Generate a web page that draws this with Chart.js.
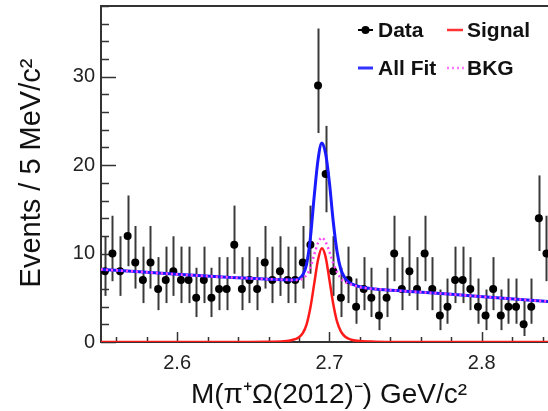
<!DOCTYPE html>
<html>
<head>
<meta charset="utf-8">
<script src="https://cdn.jsdelivr.net/npm/chart.js@4.4.1/dist/chart.umd.min.js"></script>
<style>
  html, body { margin: 0; padding: 0; background: #fff; }
  canvas { display: block; }
</style>
</head>
<body>
<canvas id="massChart" width="548" height="411"></canvas>
<script>
// binning of the histogram (5 MeV bins starting at 2.55 GeV)
var binLow = 2.55;
var binWidth = 0.005;

// events per bin
var counts = [8, 10, 8, 12, 9, 7, 9, 6, 7, 8,
              7, 7, 5, 7, 5, 6, 6, 11, 6, 7,
              6, 9, 7, 8, 7, 7, 9, 11, 29, 19,
              8, 5, 7, 4, 6, 5, 3, 5, 10, 6,
              8, 6, 10, 6, 3, 4, 7, 7, 6, 4,
              3, 6, 3, 4, 4, 2, 4, 14, 10];

// fit curves sampled at these masses
var curveX      = [2.55, 2.57, 2.60, 2.63, 2.66, 2.67, 2.675, 2.68, 2.6825, 2.685, 2.6875, 2.69, 2.6925, 2.695, 2.6975, 2.70, 2.7025, 2.705, 2.7075, 2.71, 2.7125, 2.715, 2.72, 2.73, 2.75, 2.78, 2.81, 2.85];
var signalCurve = [0, 0, 0, 0, 0.03, 0.08, 0.2, 0.55, 1.0, 2.0, 3.9, 6.6, 9.3, 10.6, 9.6, 7.0, 4.3, 2.3, 1.2, 0.65, 0.38, 0.22, 0.1, 0.04, 0.01, 0, 0, 0];
var allFitCurve = [8.2, 8.0, 7.65, 7.35, 7.1, 7.05, 7.0, 7.15, 7.6, 8.8, 11.8, 16.5, 20.6, 22.5, 21.3, 18.0, 13.6, 10.2, 8.2, 7.3, 6.8, 6.55, 6.25, 6.0, 5.75, 5.4, 5.0, 4.5];
var bkgCurve    = [8.2, 8.0, 7.65, 7.35, 7.1, 7.05, 7.0, 7.0, 7.2, 7.6, 8.4, 9.9, 11.2, 11.8, 11.3, 10.2, 8.9, 7.9, 7.2, 6.8, 6.6, 6.45, 6.2, 6.0, 5.75, 5.4, 5.0, 4.5];

// axis ticks
var xTickLabels = [2.6, 2.7, 2.8];
var yTickLabels = [0, 10, 20, 30];

var FONT = "'Liberation Sans', Arial, Helvetica, sans-serif";

// build the point lists chart.js wants
var dataPoints = [];
for (var i = 0; i < counts.length; i++) {
    dataPoints.push({ x: binLow + binWidth * (i + 0.5), y: counts[i] });
}
function toPoints(ys) {
    var pts = [];
    for (var i = 0; i < curveX.length; i++) pts.push({ x: curveX[i], y: ys[i] });
    return pts;
}

// asymmetric poisson errors like ROOT draws them
function errLow(n) { return n > 0 ? Math.sqrt(n - 0.25) : 0; }
function errHigh(n) { return Math.sqrt(n + 0.75) + 1; }

// frame, inner ticks and error bars in ROOT style
var rootFrame = {
    id: 'rootFrame',
    beforeDatasetsDraw: function(chart) {
        var ctx = chart.ctx, a = chart.chartArea;
        var xs = chart.scales.x, ys = chart.scales.y;
        ctx.save();
        ctx.beginPath();
        ctx.rect(a.left, a.top, a.right - a.left, a.bottom - a.top);
        ctx.clip();

        // error bars
        ctx.strokeStyle = '#3a3a3a';
        ctx.lineWidth = 2;
        for (var i = 0; i < dataPoints.length; i++) {
            var p = dataPoints[i];
            var px = Math.round(xs.getPixelForValue(p.x)) + 0.5;
            ctx.beginPath();
            ctx.moveTo(px, ys.getPixelForValue(p.y - errLow(p.y)));
            ctx.lineTo(px, ys.getPixelForValue(p.y + errHigh(p.y)));
            ctx.stroke();
        }
        ctx.restore();

        // frame
        ctx.save();
        ctx.strokeStyle = '#333';
        ctx.lineWidth = 2;
        ctx.beginPath();
        ctx.moveTo(a.right, a.top);
        ctx.lineTo(a.left, a.top);
        ctx.lineTo(a.left, a.bottom);
        ctx.lineTo(a.right, a.bottom);
        ctx.stroke();

        // y ticks every 2, long ones every 10
        ctx.lineWidth = 1.5;
        for (var v = 0; v <= ys.max; v += 2) {
            var y = Math.round(ys.getPixelForValue(v)) + 0.5;
            var len = (v % 10 === 0) ? 15 : 8;
            ctx.beginPath();
            ctx.moveTo(a.left, y);
            ctx.lineTo(a.left + len, y);
            ctx.stroke();
        }
        // x ticks every 0.02, long ones every 0.1
        for (var k = 0; ; k++) {
            var xv = 2.56 + 0.02 * k;
            if (xv > xs.max) break;
            var x = Math.round(xs.getPixelForValue(xv)) + 0.5;
            var major = Math.abs(xv * 10 - Math.round(xv * 10)) < 1e-6;
            ctx.beginPath();
            ctx.moveTo(x, a.bottom);
            ctx.lineTo(x, a.bottom - (major ? 10 : 5));
            ctx.stroke();
        }
        ctx.restore();
    },
    afterDraw: function(chart) {
        var ctx = chart.ctx;
        ctx.save();
        ctx.fillStyle = '#111';

        // axis titles
        ctx.font = '28px ' + FONT;
        ctx.textAlign = 'center';
        ctx.textBaseline = 'alphabetic';
        ctx.fillText('M(\u03c0\u207a\u03a9(2012)\u207b) GeV/c\u00b2', 329, 403);

        ctx.save();
        ctx.translate(40, 173);
        ctx.rotate(-Math.PI / 2);
        ctx.font = '29px ' + FONT;
        ctx.fillText('Events / 5 MeV/c\u00b2', 0, 0);
        ctx.restore();

        // legend
        ctx.font = 'bold 21px ' + FONT;
        ctx.textAlign = 'left';
        ctx.textBaseline = 'middle';
        var row1 = 30, row2 = 68;

        ctx.strokeStyle = '#000';
        ctx.lineWidth = 2;
        ctx.beginPath(); ctx.moveTo(358, row1); ctx.lineTo(373, row1); ctx.stroke();
        ctx.beginPath(); ctx.arc(365.5, row1, 4, 0, Math.PI * 2); ctx.fillStyle = '#000'; ctx.fill();
        ctx.fillStyle = '#111';
        ctx.fillText('Data', 378, row1 + 1);

        ctx.strokeStyle = '#ff3333';
        ctx.lineWidth = 2.5;
        ctx.beginPath(); ctx.moveTo(447, row1); ctx.lineTo(463, row1); ctx.stroke();
        ctx.fillText('Signal', 467, row1 + 1);

        ctx.strokeStyle = '#3333ff';
        ctx.lineWidth = 3;
        ctx.beginPath(); ctx.moveTo(358, row2); ctx.lineTo(373, row2); ctx.stroke();
        ctx.fillText('All Fit', 378, row2 + 1);

        ctx.strokeStyle = '#ff77ff';
        ctx.lineWidth = 2.5;
        ctx.setLineDash([2, 3]);
        ctx.beginPath(); ctx.moveTo(447, row2); ctx.lineTo(464, row2); ctx.stroke();
        ctx.setLineDash([]);
        ctx.fillText('BKG', 467, row2 + 1);

        ctx.restore();
    }
};

var ctx = document.getElementById('massChart');
var massChart = new Chart(ctx, {
    type: 'scatter',
    data: {
        datasets: [{
            label: 'Data',
            data: dataPoints,
            pointRadius: 4,
            pointBackgroundColor: '#000',
            pointBorderColor: '#000',
            pointBorderWidth: 0,
            showLine: false,
            order: 3
        }, {
            label: 'Signal',
            data: toPoints(signalCurve),
            showLine: true,
            borderColor: '#ff1a1a',
            borderWidth: 2.5,
            pointRadius: 0,
            cubicInterpolationMode: 'monotone',
            order: 2
        }, {
            label: 'All Fit',
            data: toPoints(allFitCurve),
            showLine: true,
            borderColor: '#1a1aff',
            borderWidth: 3,
            pointRadius: 0,
            cubicInterpolationMode: 'monotone',
            order: 1
        }, {
            label: 'BKG',
            data: toPoints(bkgCurve),
            showLine: true,
            borderColor: '#ff44ff',
            borderWidth: 2.5,
            borderDash: [2, 3],
            pointRadius: 0,
            cubicInterpolationMode: 'monotone',
            order: 0
        }]
    },
    options: {
        responsive: false,
        animation: false,
        devicePixelRatio: 1,
        // the plot runs off the right edge of the picture, so no auto padding for points
        layout: { autoPadding: false, padding: { top: 6, left: 0, right: 0, bottom: 0 } },
        plugins: {
            legend: { display: false },
            tooltip: { enabled: false }
        },
        scales: {
            x: {
                type: 'linear',
                min: 2.55,
                max: 2.8435,
                grid: { display: false, drawTicks: false },
                border: { display: false },
                ticks: {
                    font: { family: FONT, size: 20 },
                    color: '#222',
                    padding: 9,
                    maxRotation: 0,
                    callback: function(v) { return v.toFixed(1); }
                },
                afterBuildTicks: function(scale) {
                    scale.ticks = xTickLabels.map(function(v) { return { value: v }; });
                },
                afterFit: function(scale) {
                    scale.height = 69;
                    scale.paddingLeft = 0;
                    scale.paddingRight = 0;
                }
            },
            y: {
                min: 0,
                max: 38,
                grid: { display: false, drawTicks: false },
                border: { display: false },
                ticks: {
                    font: { family: FONT, size: 20 },
                    color: '#222',
                    padding: 6
                },
                afterBuildTicks: function(scale) {
                    scale.ticks = yTickLabels.map(function(v) { return { value: v }; });
                },
                afterFit: function(scale) {
                    scale.width = 101;
                    scale.paddingTop = 0;
                    scale.paddingBottom = 0;
                }
            }
        }
    },
    plugins: [rootFrame]
});
</script>
</body>
</html>
